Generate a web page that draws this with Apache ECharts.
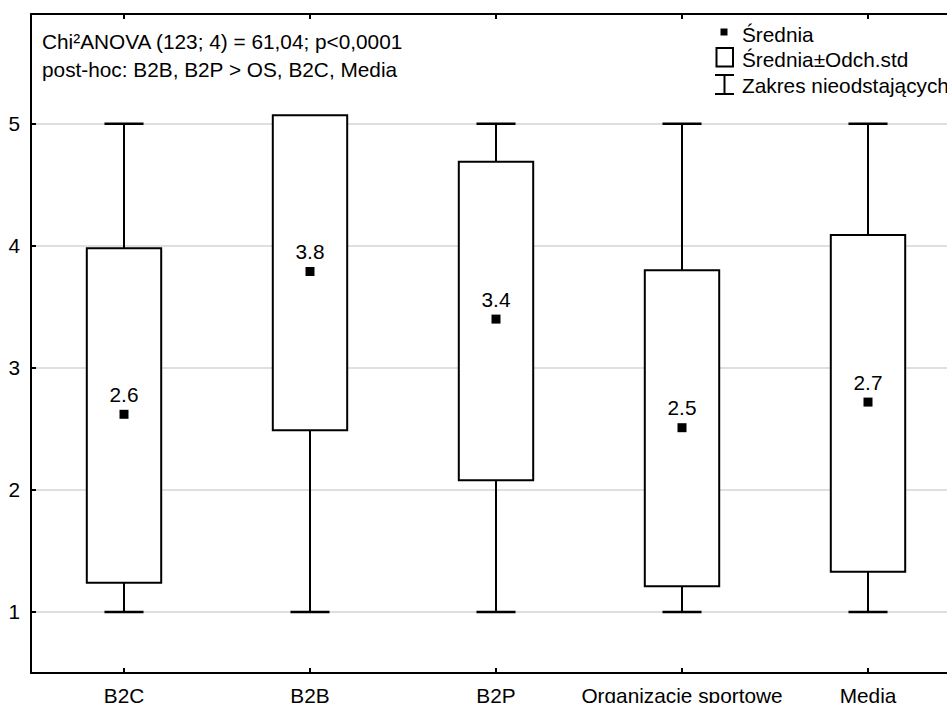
<!DOCTYPE html>
<html>
<head>
<meta charset="utf-8">
<script src="https://cdn.jsdelivr.net/npm/echarts@6/dist/echarts.min.js"></script>
<style>
  html, body { margin: 0; padding: 0; background: #fff; }
  #chart { width: 947px; height: 703px; }
</style>
</head>
<body>
<div id="chart"></div>
<script>
// Groups compared
const categories = ['B2C', 'B2B', 'B2P', 'Organizacje sportowe', 'Media'];
// Mean of each group
const means = [2.62, 3.79, 3.40, 2.51, 2.72];
// Mean - standard deviation / mean + standard deviation
const sdLow = [1.24, 2.49, 2.08, 1.21, 1.33];
const sdHigh = [3.98, 5.07, 4.69, 3.80, 4.09];
// Non-outlier range
const rangeMin = [1, 1, 1, 1, 1];
const rangeMax = [5, 5, 5, 5, 5];
// Y tick labels
const yTicks = [1, 2, 3, 4, 5];

const FONT = '"Liberation Sans", Arial, sans-serif';
const FS = 20.8;

const boxData = categories.map((c, i) => [i, rangeMin[i], sdLow[i], sdHigh[i], rangeMax[i]]);
const meanData = categories.map((c, i) => [i, means[i]]);

function renderBox(params, api) {
  const idx = api.value(0);
  const lo = api.value(1), q1 = api.value(2), q3 = api.value(3), hi = api.value(4);
  const pLo = api.coord([idx, lo]);
  const pQ1 = api.coord([idx, q1]);
  const pQ3 = api.coord([idx, q3]);
  const pHi = api.coord([idx, hi]);
  const band = api.size([1, 0])[0];
  const bw = band * 0.4;
  const cw = band * 0.21;
  const cx = pQ1[0];
  const lineStyle = { stroke: '#000', lineWidth: 2 };
  const capStyle = { stroke: '#000', lineWidth: 2.5 };
  const children = [];
  if (hi > q3) {
    children.push({ type: 'line', shape: { x1: cx, y1: pHi[1], x2: cx, y2: pQ3[1] }, style: lineStyle });
    children.push({ type: 'line', shape: { x1: cx - cw / 2, y1: pHi[1], x2: cx + cw / 2, y2: pHi[1] }, style: capStyle });
  }
  if (lo < q1) {
    children.push({ type: 'line', shape: { x1: cx, y1: pLo[1], x2: cx, y2: pQ1[1] }, style: lineStyle });
    children.push({ type: 'line', shape: { x1: cx - cw / 2, y1: pLo[1], x2: cx + cw / 2, y2: pLo[1] }, style: capStyle });
  }
  children.push({
    type: 'rect',
    shape: { x: cx - bw / 2, y: pQ3[1], width: bw, height: pQ1[1] - pQ3[1] },
    style: { fill: '#fff', stroke: '#000', lineWidth: 2 }
  });
  return { type: 'group', children };
}

const chart = echarts.init(document.getElementById('chart'), null, { renderer: 'svg' });

const textStyle = (text, x, y) => ({
  type: 'text', x, y,
  style: { text, fill: '#000', font: FS + 'px ' + FONT, verticalAlign: 'middle' }
});

const option = {
  animation: false,
  backgroundColor: '#fff',
  textStyle: { fontFamily: FONT, fontSize: FS, color: '#000' },
  // plot frame runs past the right edge of the canvas
  grid: { left: 31, width: 930, top: 14, bottom: 30, containLabel: false, outerBoundsMode: 'none' },
  xAxis: [
    {
      type: 'category',
      data: categories,
      position: 'bottom',
      boundaryGap: true,
      axisLine: { lineStyle: { color: '#000', width: 2 } },
      axisTick: { show: true, inside: true, length: 5, alignWithLabel: true, lineStyle: { color: '#000', width: 2 } },
      axisLabel: { color: '#000', fontFamily: FONT, fontSize: FS, margin: 12, interval: 0 },
      splitLine: { show: false }
    },
    {
      type: 'category',
      data: categories,
      position: 'top',
      boundaryGap: true,
      axisLine: { lineStyle: { color: '#000', width: 2 } },
      axisTick: { show: true, inside: true, length: 5, alignWithLabel: true, lineStyle: { color: '#000', width: 2 } },
      axisLabel: { show: false },
      splitLine: { show: false }
    }
  ],
  yAxis: {
    type: 'value',
    min: 0.5,
    max: 5.9,
    splitNumber: 5,
    axisLine: { show: true, lineStyle: { color: '#000', width: 2 } },
    axisTick: { show: true, inside: true, length: 5, lineStyle: { color: '#000', width: 2 }, customValues: yTicks },
    axisLabel: {
      color: '#000', fontFamily: FONT, fontSize: FS, margin: 11,
      customValues: yTicks,
      formatter: v => (Number.isInteger(v) ? String(v) : '')
    },
    splitLine: { show: true, lineStyle: { color: '#d4d4d4', width: 1.5 } }
  },
  series: [
    {
      name: 'Średnia±Odch.std',
      type: 'custom',
      xAxisIndex: 0,
      renderItem: renderBox,
      encode: { x: 0, y: [1, 2, 3, 4] },
      data: boxData,
      z: 2
    },
    {
      name: 'Średnia',
      type: 'scatter',
      xAxisIndex: 0,
      symbol: 'rect',
      symbolSize: 9,
      itemStyle: { color: '#000', opacity: 1 },
      label: {
        show: true,
        position: 'top',
        distance: 5,
        color: '#000',
        opacity: 1,
        fontFamily: FONT,
        fontSize: FS,
        formatter: p => p.value[1].toFixed(1)
      },
      emphasis: { disabled: true },
      data: meanData,
      z: 3
    }
  ],
  graphic: [
    textStyle('Chi²ANOVA (123; 4) = 61,04; p<0,0001', 42, 41),
    textStyle('post-hoc: B2B, B2P > OS, B2C, Media', 42, 69),
    // legend: mean marker
    { type: 'rect', shape: { x: 720.5, y: 28.5, width: 7, height: 7 }, style: { fill: '#000' } },
    textStyle('Średnia', 742, 34),
    // legend: box
    { type: 'rect', shape: { x: 716.5, y: 48, width: 16.5, height: 18.5 }, style: { fill: '#fff', stroke: '#000', lineWidth: 2 } },
    textStyle('Średnia±Odch.std', 742, 59.5),
    // legend: whisker
    { type: 'line', shape: { x1: 715, y1: 75, x2: 734, y2: 75 }, style: { stroke: '#000', lineWidth: 2 } },
    { type: 'line', shape: { x1: 724.5, y1: 75, x2: 724.5, y2: 94 }, style: { stroke: '#000', lineWidth: 2 } },
    { type: 'line', shape: { x1: 715, y1: 94, x2: 734, y2: 94 }, style: { stroke: '#000', lineWidth: 2 } },
    textStyle('Zakres nieodstających', 742, 85)
  ]
};

chart.setOption(option);
</script>
</body>
</html>
